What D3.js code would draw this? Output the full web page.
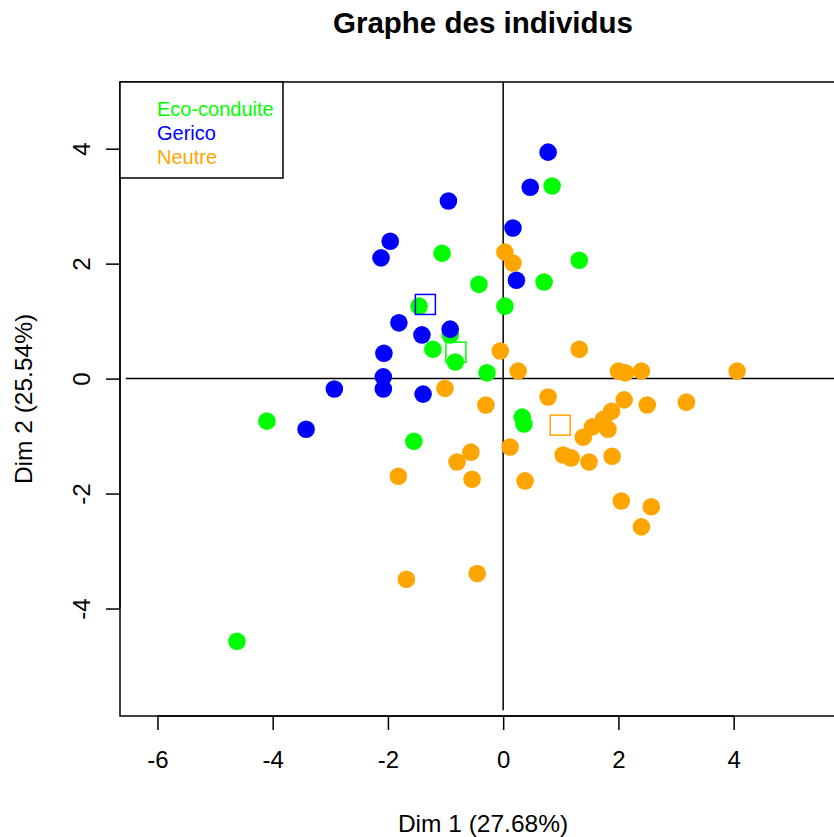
<!DOCTYPE html>
<html>
<head>
<meta charset="utf-8">
<script src="https://cdn.jsdelivr.net/npm/d3@7"></script>
<style>
  body { margin: 0; background: #fff; }
  text { font-family: "Liberation Sans", Arial, Helvetica, sans-serif; }
</style>
</head>
<body>
<div id="graph"></div>
<script>
// Coordinates of the individuals, one pair of arrays per group
var ecoX = [0.85, -1.06, 1.32, -0.42, 0.71, 0.03, -1.46, -0.92, -1.22, -0.83, -0.28, 0.33, 0.36, -1.55, -4.10, -4.62];
var ecoY = [3.35, 2.18, 2.06, 1.64, 1.68, 1.26, 1.26, 0.76, 0.51, 0.29, 0.10, -0.67, -0.79, -1.09, -0.74, -4.57];

var neutreX = [0.03, 0.17, -0.05, 1.32, 0.26, 2.00, 2.12, 2.40, 4.06, -1.01, 0.78, -0.30, 2.10, 2.50, 3.18,
  1.88, 1.74, 1.82, 1.55, 1.39, 0.12, 1.04, 1.18, 1.49, 1.89, -0.56, -0.80, -0.54, 0.38, -1.82, 2.05, 2.57, 2.40, -1.68, -0.45];
var neutreY = [2.20, 2.01, 0.48, 0.51, 0.13, 0.13, 0.10, 0.13, 0.13, -0.17, -0.32, -0.46, -0.37, -0.46, -0.41,
  -0.57, -0.71, -0.88, -0.84, -1.02, -1.19, -1.33, -1.38, -1.45, -1.35, -1.28, -1.45, -1.75, -1.78, -1.70, -2.13, -2.23, -2.58, -3.49, -3.39];

var gericoX = [0.78, 0.47, -0.95, -1.96, -2.12, 0.17, 0.23, -1.81, -1.41, -0.92, -2.07, -2.08, -2.08, -2.93, -1.39, -3.42];
var gericoY = [3.94, 3.33, 3.09, 2.39, 2.10, 2.62, 1.71, 0.97, 0.76, 0.86, 0.44, 0.03, -0.18, -0.18, -0.27, -0.88];

// group centres (squares)
var groups = ["Eco-conduite", "Gerico", "Neutre"];
var groupColors = ["#00ff00", "#0000ff", "#ffa500"];
var centreX = [-0.82, -1.35, 0.99];
var centreY = [0.46, 1.29, -0.81];

var xTicks = [-6, -4, -2, 0, 2, 4];
var yTicks = [-4, -2, 0, 2, 4];

////////////////////////////////////////////////////////////////////////////////
const WIDTH = 834;
const HEIGHT = 837;

var plot = { left: 120, right: 846, top: 82, bottom: 716 };

var x = d3.scaleLinear().domain([-6.65, 5.95]).range([plot.left, plot.right]);
var y = d3.scaleLinear().domain([-5.87, 5.16]).range([plot.bottom, plot.top]);

var svg = d3.select("#graph")
  .append("svg")
  .attr("width", WIDTH)
  .attr("height", HEIGHT);

// Title
svg.append("text")
  .attr("x", (plot.left + plot.right) / 2)
  .attr("y", 33)
  .attr("text-anchor", "middle")
  .style("font-size", "29.5px")
  .style("font-weight", "bold")
  .text("Graphe des individus");

// Axes (plain hyphen for negatives, like R)
var fmt = function (d) { return String(d); };
var xAxis = d3.axisBottom(x).tickValues(xTicks).tickSize(14).tickPadding(21).tickFormat(fmt);
var yAxis = d3.axisLeft(y).tickValues(yTicks).tickSize(14).tickPadding(8).tickFormat(fmt);

var gx = svg.append("g")
  .attr("transform", "translate(0," + plot.bottom + ")")
  .call(xAxis);
gx.select(".domain").remove();
gx.append("line")
  .attr("x1", x(xTicks[0])).attr("x2", x(xTicks[xTicks.length - 1]))
  .attr("stroke", "#000").attr("stroke-width", 1.5);

var gy = svg.append("g")
  .attr("transform", "translate(" + plot.left + ",0)")
  .call(yAxis);
gy.select(".domain").remove();
gy.append("line")
  .attr("y1", y(yTicks[0])).attr("y2", y(yTicks[yTicks.length - 1]))
  .attr("stroke", "#000").attr("stroke-width", 1.5);
gy.selectAll(".tick text")
  .attr("text-anchor", "middle")
  .attr("transform", "rotate(-90,-38,0)")
  .attr("x", -38)
  .attr("dy", "0.35em");

svg.selectAll(".tick line").attr("stroke-width", 1.5);
svg.selectAll(".tick text")
  .style("font-size", "24px")
  .style("font-family", "'Liberation Sans', Arial, sans-serif")
  .attr("fill", "#000");

// Axis titles
svg.append("text")
  .attr("x", (plot.left + plot.right) / 2)
  .attr("y", 832)
  .attr("text-anchor", "middle")
  .style("font-size", "24.5px")
  .text("Dim 1 (27.68%)");

svg.append("text")
  .attr("transform", "translate(32," + (plot.top + plot.bottom) / 2 + ") rotate(-90)")
  .attr("text-anchor", "middle")
  .style("font-size", "24.5px")
  .text("Dim 2 (25.54%)");

// Plot box
svg.append("rect")
  .attr("x", plot.left).attr("y", plot.top)
  .attr("width", plot.right - plot.left).attr("height", plot.bottom - plot.top)
  .attr("fill", "none").attr("stroke", "#000").attr("stroke-width", 1.5);

// zero lines
svg.append("line")
  .attr("x1", x(-6.55)).attr("x2", x(5.95))
  .attr("y1", y(0)).attr("y2", y(0))
  .attr("stroke", "#000").attr("stroke-width", 1.5);
svg.append("line")
  .attr("x1", x(0)).attr("x2", x(0))
  .attr("y1", y(5.16)).attr("y2", y(-5.77))
  .attr("stroke", "#000").attr("stroke-width", 1.5);

// points
function drawGroup(xs, ys, color) {
  svg.append("g").selectAll("circle")
    .data(d3.zip(xs, ys))
    .enter().append("circle")
    .attr("cx", function (d) { return x(d[0]); })
    .attr("cy", function (d) { return y(d[1]); })
    .attr("r", 8.8)
    .attr("fill", color);
}
drawGroup(ecoX, ecoY, groupColors[0]);
drawGroup(neutreX, neutreY, groupColors[2]);
drawGroup(gericoX, gericoY, groupColors[1]);

// centres
svg.append("g").selectAll("rect")
  .data(d3.range(groups.length))
  .enter().append("rect")
  .attr("x", function (i) { return x(centreX[i]) - 10; })
  .attr("y", function (i) { return y(centreY[i]) - 10; })
  .attr("width", 20).attr("height", 20)
  .attr("fill", "none")
  .attr("stroke", function (i) { return groupColors[i]; })
  .attr("stroke-width", 1.5);

// Legend
svg.append("rect")
  .attr("x", plot.left).attr("y", plot.top)
  .attr("width", 163).attr("height", 96)
  .attr("fill", "#fff").attr("stroke", "#000").attr("stroke-width", 1.5);

svg.append("g").selectAll("text")
  .data(groups)
  .enter().append("text")
  .attr("x", 157)
  .attr("y", function (d, i) { return 116 + i * 24; })
  .attr("fill", function (d, i) { return groupColors[i]; })
  .style("font-size", "20px")
  .text(function (d) { return d; });
</script>
</body>
</html>
